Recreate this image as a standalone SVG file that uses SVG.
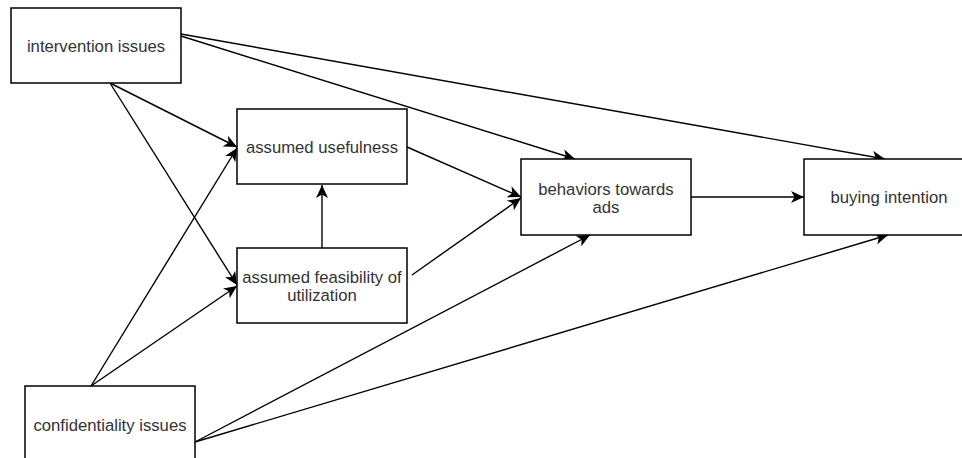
<svg xmlns="http://www.w3.org/2000/svg" width="962" height="458" viewBox="0 0 962 458">
<style>
.box{fill:#fff;stroke:#000;stroke-width:1.5}
.lbl{font-family:"Liberation Sans",Arial,sans-serif;font-size:16.7px;fill:#333;text-anchor:middle}
.edge{fill:none;stroke:#000;stroke-width:1.4}
</style>
<defs>
<marker id="arr" markerUnits="userSpaceOnUse" markerWidth="14" markerHeight="12" viewBox="0 0 14 12" refX="13" refY="6" orient="auto">
<path d="M0,0 L13,6 L0,12 L3.5,6 Z" fill="#000"/>
</marker>
</defs>
<rect width="962" height="458" fill="#fff"/>
<g id="connectors">
<line class="edge" x1="181" y1="34" x2="885" y2="159" marker-end="url(#arr)"/>
<line class="edge" x1="181" y1="36" x2="575" y2="159" marker-end="url(#arr)"/>
<line class="edge" x1="110" y1="83" x2="237" y2="147" marker-end="url(#arr)"/>
<line class="edge" x1="110" y1="83" x2="237" y2="285" marker-end="url(#arr)"/>
<line class="edge" x1="91" y1="386" x2="237" y2="148" marker-end="url(#arr)"/>
<line class="edge" x1="91" y1="386" x2="237" y2="286" marker-end="url(#arr)"/>
<line class="edge" x1="195" y1="442" x2="590" y2="235" marker-end="url(#arr)"/>
<line class="edge" x1="195" y1="442" x2="888" y2="235" marker-end="url(#arr)"/>
<line class="edge" x1="407" y1="147" x2="521" y2="197" marker-end="url(#arr)"/>
<line class="edge" x1="412" y1="275" x2="521" y2="198" marker-end="url(#arr)"/>
<line class="edge" x1="322" y1="248" x2="322" y2="185" marker-end="url(#arr)"/>
<line class="edge" x1="691" y1="197" x2="804" y2="197" marker-end="url(#arr)"/>
</g>
<g id="intervention">
<rect class="box" x="11" y="8" width="170" height="75"/>
<text class="lbl" x="96" y="51.5">intervention issues</text>
</g>
<g id="usefulness">
<rect class="box" x="237" y="109" width="170" height="75"/>
<text class="lbl" x="322" y="152.5">assumed usefulness</text>
</g>
<g id="feasibility">
<rect class="box" x="237" y="248" width="170" height="75"/>
<text class="lbl" x="322" y="283">assumed feasibility of</text>
<text class="lbl" x="322" y="300.5">utilization</text>
</g>
<g id="behaviors">
<rect class="box" x="521" y="159" width="170" height="76"/>
<text class="lbl" x="606" y="195">behaviors towards</text>
<text class="lbl" x="606" y="213">ads</text>
</g>
<g id="buying">
<rect class="box" x="804" y="159" width="170" height="76"/>
<text class="lbl" x="889" y="203">buying intention</text>
</g>
<g id="confidentiality">
<rect class="box" x="25" y="386" width="170" height="75"/>
<text class="lbl" x="110" y="431">confidentiality issues</text>
</g>
</svg>
